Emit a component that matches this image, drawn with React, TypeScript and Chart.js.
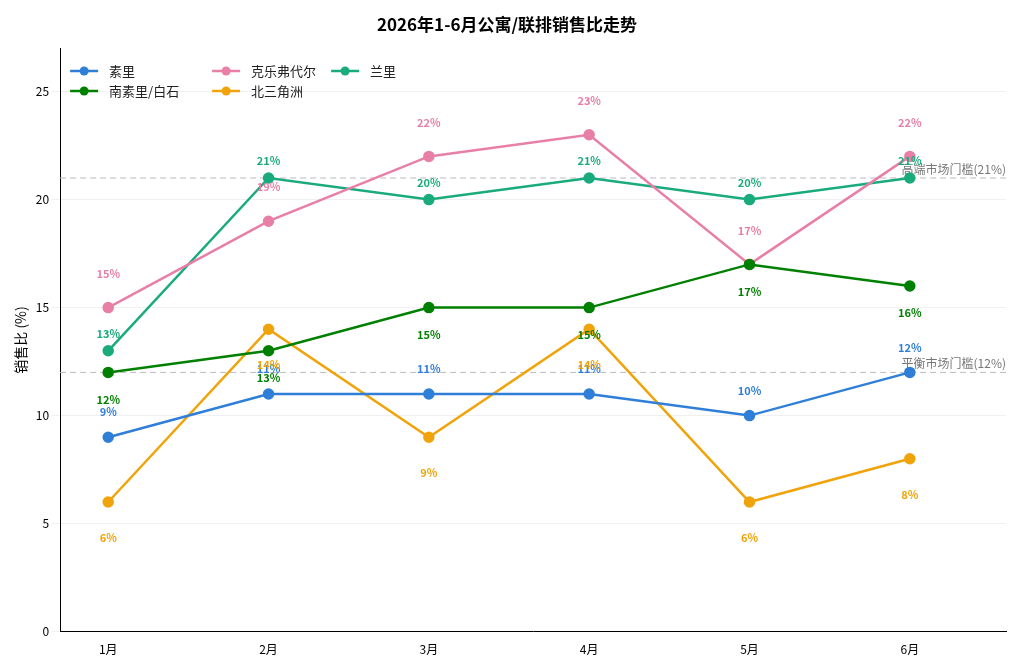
import React, { useEffect, useRef } from "react";
import { Chart, registerables } from "chart.js";
Chart.register(...registerables);

const months = ["1月", "2月", "3月", "4月", "5月", "6月"];
const seriesNames = ["素里", "南素里/白石", "克乐弗代尔", "北三角洲", "兰里"];
const suli = [9, 11, 11, 11, 10, 12];
const nanSuli = [12, 13, 15, 15, 17, 16];
const kele = [15, 19, 22, 23, 17, 22];
const beiSanjiao = [6, 14, 9, 14, 6, 8];
const lanli = [13, 21, 20, 21, 20, 21];
const colors = ["#2f7ed8", "#008000", "#e87fa6", "#f0a30a", "#1aab7d"];
const labelOffsets = [-25, 27, -34, 36, -17];
const thresholds = [21, 12];
const thresholdLabels = ["高端市场门槛(21%)", "平衡市场门槛(12%)"];
const FONT = "'Noto Sans CJK SC', 'Noto Sans', sans-serif";

export default function App() {
  const ref = useRef<HTMLCanvasElement>(null);
  useEffect(() => {
    const values = [suli, nanSuli, kele, beiSanjiao, lanli];
    const plugin = {
      id: "extras",
      beforeDatasetsDraw(chart: any) {
        const { ctx, chartArea, scales } = chart;
        ctx.save();
        ctx.setLineDash([6, 4]);
        ctx.strokeStyle = "#bbbbbb";
        ctx.lineWidth = 1;
        thresholds.forEach((t, i) => {
          const y = scales.y.getPixelForValue(t);
          ctx.beginPath();
          ctx.moveTo(chartArea.left, y);
          ctx.lineTo(chartArea.right, y);
          ctx.stroke();
          ctx.fillStyle = "#777";
          ctx.font = `12px ${FONT}`;
          ctx.textAlign = "right";
          ctx.textBaseline = "bottom";
          ctx.fillText(thresholdLabels[i], chartArea.right, y - 3);
        });
        ctx.restore();
      },
      afterDatasetsDraw(chart: any) {
        const { ctx, chartArea } = chart;
        ctx.save();
        ctx.font = `bold 11px ${FONT}`;
        ctx.textAlign = "center";
        ctx.textBaseline = "middle";
        chart.data.datasets.forEach((ds: any, i: number) => {
          const meta = chart.getDatasetMeta(i);
          meta.data.forEach((pt: any, j: number) => {
            ctx.fillStyle = colors[i];
            ctx.fillText(values[i][j] + "%", pt.x, pt.y + labelOffsets[i]);
          });
        });
        // legend
        const cols = [66, 208, 327];
        const rows = [63, 83];
        ctx.font = `13px ${FONT}`;
        ctx.textAlign = "left";
        seriesNames.forEach((n, i) => {
          const x = cols[Math.floor(i / 2)] + chartArea.left - 56;
          const y = rows[i % 2];
          ctx.strokeStyle = colors[i];
          ctx.lineWidth = 2.5;
          ctx.beginPath();
          ctx.moveTo(x, y);
          ctx.lineTo(x + 28, y);
          ctx.stroke();
          ctx.fillStyle = colors[i];
          ctx.beginPath();
          ctx.arc(x + 14, y, 4.5, 0, Math.PI * 2);
          ctx.fill();
          ctx.fillStyle = "#222";
          ctx.fillText(n, x + 39, y);
        });
        ctx.restore();
      },
    };
    const chart = new Chart(ref.current!, {
      type: "line",
      data: {
        datasets: values.map((v, i) => ({
          label: seriesNames[i],
          data: v.map((y, x) => ({ x, y })),
          borderColor: colors[i],
          backgroundColor: colors[i],
          borderWidth: 2.5,
          pointRadius: 4.5,
          pointHoverRadius: 4.5,
          tension: 0,
        })),
      },
      options: {
        animation: false,
        responsive: false,
        layout: { padding: { right: 10, top: 0 } },
        plugins: {
          legend: { display: false },
          tooltip: { enabled: false },
          title: {
            display: true,
            text: "2026年1-6月公寓/联排销售比走势",
            font: { family: FONT, size: 17, weight: "bold" },
            color: "#000",
            padding: { top: 6, bottom: 14 },
          },
        },
        scales: {
          x: {
            type: "linear",
            min: -0.3,
            max: 5.6,
            grid: { display: false },
            border: { color: "#000" },
            afterBuildTicks: (ax: any) => {
              ax.ticks = months.map((_, i) => ({ value: i }));
            },
            ticks: {
              color: "#000",
              font: { family: FONT, size: 12 },
              callback: (v: any) => months[v as number] ?? "",
            },
          },
          y: {
            min: 0,
            max: 27,
            grid: { color: "#f0f0f0", drawTicks: true },
            border: { color: "#000" },
            afterBuildTicks: (ax: any) => {
              ax.ticks = [0, 5, 10, 15, 20, 25].map((value) => ({ value }));
            },
            ticks: { color: "#000", font: { family: FONT, size: 12 } },
            title: {
              display: true,
              text: "销售比 (%)",
              color: "#000",
              font: { family: FONT, size: 14 },
            },
          },
        },
      },
      plugins: [plugin],
    } as any);
    return () => chart.destroy();
  }, []);
  return <canvas ref={ref} width={1008} height={652} style={{ display: "block" }} />;
}
